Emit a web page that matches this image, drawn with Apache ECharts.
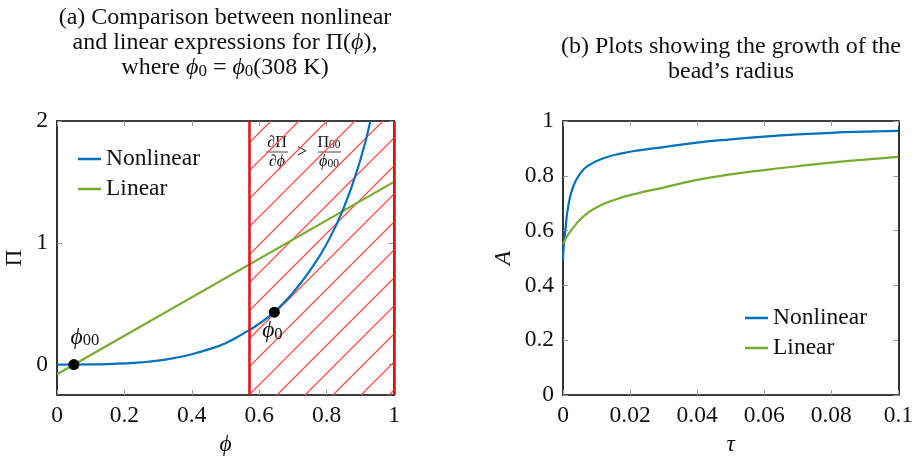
<!DOCTYPE html>
<html>
<head>
<meta charset="utf-8">
<script src="https://cdn.jsdelivr.net/npm/echarts/dist/echarts.min.js"></script>
<style>
  html, body { margin: 0; padding: 0; background: #fff; }
  #main { width: 916px; height: 461px; }
</style>
</head>
<body>
<div id="main"></div>
<script>
// ---- data ----
// (a) Pi(phi)
var phiNl = [0, 0.05, 0.1, 0.15, 0.2, 0.25, 0.3, 0.35, 0.4, 0.45, 0.5, 0.55, 0.6, 0.65, 0.7, 0.75, 0.8, 0.85, 0.9, 0.93];
var piNl  = [0, 0, 0.001, 0.004, 0.009, 0.018, 0.032, 0.055, 0.085, 0.125, 0.175, 0.25, 0.335, 0.445, 0.59, 0.77, 0.99, 1.28, 1.68, 2.0];
var phiLin = [0, 1];
var piLin  = [-0.08, 1.5];
var pointPhi = [0.05, 0.645];
var pointPi  = [0, 0.43];
var pointNames = ['00', '0'];
var regionStart = 0.57;
var ticksA_x = [0, 0.2, 0.4, 0.6, 0.8, 1];
var ticksA_y = [0, 1, 2];

// (b) A(tau)
var tauNl = [0, 0.0002, 0.0007, 0.0015, 0.003, 0.005, 0.0075, 0.0125, 0.0175, 0.0225, 0.03, 0.04, 0.05, 0.06, 0.07, 0.08, 0.09, 0.1];
var aNl   = [0.49, 0.54, 0.6, 0.685, 0.76, 0.806, 0.837, 0.866, 0.882, 0.893, 0.905, 0.921, 0.933, 0.943, 0.951, 0.957, 0.961, 0.964];
var tauLin = [0, 0.0003, 0.001, 0.0025, 0.0055, 0.0095, 0.0155, 0.0225, 0.03, 0.04, 0.05, 0.06, 0.07, 0.08, 0.09, 0.1];
var aLin   = [0.551, 0.558, 0.575, 0.602, 0.645, 0.682, 0.713, 0.737, 0.757, 0.785, 0.805, 0.821, 0.835, 0.848, 0.859, 0.869];

function zip(xs, ys) { return xs.map(function (x, i) { return [x, ys[i]]; }); }

var BLUE = '#0072bd', GREEN = '#77ac30', RED = '#e3141b';
var FONT = '"Liberation Serif", "DejaVu Serif", serif';
var FS = 23.5;

// hatch tile
var tile = document.createElement('canvas');
tile.width = 28; tile.height = 28;
var c = tile.getContext('2d');
c.strokeStyle = '#ff4d4d';
c.lineWidth = 1.3;
c.beginPath();
c.moveTo(-2, 30); c.lineTo(30, -2);
c.moveTo(-2, 2); c.lineTo(2, -2);
c.moveTo(26, 30); c.lineTo(30, 26);
c.stroke();

var rich = {
  i: { fontFamily: FONT, fontStyle: 'italic', fontSize: FS, color: '#111' },
  s: { fontFamily: FONT, fontSize: 16.5, color: '#111', lineHeight: 16, verticalAlign: 'bottom' }
};
var titleRich = {
  i: { fontFamily: FONT, fontStyle: 'italic', fontSize: 24, color: '#111' },
  s: { fontFamily: FONT, fontSize: 17, color: '#111', lineHeight: 16, verticalAlign: 'bottom' }
};

function ticks(vals) {
  return { show: true, inside: true, length: 5, customValues: vals, lineStyle: { color: '#999', width: 1 } };
}
function frameAxis(o) {
  return Object.assign({
    type: 'value',
    axisLine: { show: true, onZero: false, lineStyle: { color: '#000', width: 1.6 } },
    axisTick: { show: true, inside: true, length: 5, lineStyle: { color: '#999', width: 1 } },
    axisLabel: { show: false },
    splitLine: { show: false }
  }, o);
}
var lbl = { show: true, fontFamily: FONT, fontSize: FS, color: '#111' };
var nameStyle = { fontFamily: FONT, fontSize: FS, fontStyle: 'italic', color: '#111' };

var chart = echarts.init(document.getElementById('main'));
chart.setOption({
  animation: false,
  title: [{
    left: 225, top: 5, padding: 0, textAlign: 'center',
    text: '(a) Comparison between nonlinear\nand linear expressions for Π({i|ϕ}),\nwhere {i|ϕ}{s|0} = {i|ϕ}{s|0}(308 K)',
    textStyle: { fontFamily: FONT, fontSize: 24, fontWeight: 'normal', color: '#111', lineHeight: 25, rich: titleRich }
  }, {
    left: 731, top: 34, padding: 0, textAlign: 'center',
    text: '(b) Plots showing the growth of the\nbead’s radius',
    textStyle: { fontFamily: FONT, fontSize: 24, fontWeight: 'normal', color: '#111', lineHeight: 25 }
  }],
  legend: [{
    orient: 'vertical', left: 78, top: 147, padding: 0, itemGap: 6,
    icon: 'rect', itemWidth: 23, itemHeight: 2.5,
    data: ['Nonlinear', 'Linear'],
    textStyle: { fontFamily: FONT, fontSize: FS, color: '#111' }
  }, {
    orient: 'vertical', left: 745, top: 306, padding: 0, itemGap: 6,
    icon: 'rect', itemWidth: 23, itemHeight: 2.5,
    data: ['Nonlinear', 'Linear'],
    textStyle: { fontFamily: FONT, fontSize: FS, color: '#111' }
  }],
  grid: [
    { left: 57, right: 522, top: 121, bottom: 64 },
    { left: 563, right: 17, top: 121, bottom: 64 }
  ],
  xAxis: [
    frameAxis({ gridIndex: 0, min: 0, max: 1, position: 'bottom',
      name: 'ϕ', nameLocation: 'middle', nameGap: 38, nameTextStyle: nameStyle,
      axisTick: ticks(ticksA_x),
      axisLabel: Object.assign({ margin: 9, customValues: ticksA_x }, lbl) }),
    frameAxis({ gridIndex: 0, min: 0, max: 1, position: 'top', axisTick: ticks(ticksA_x) }),
    frameAxis({ gridIndex: 1, min: 0, max: 0.1, interval: 0.02, position: 'bottom',
      name: 'τ', nameLocation: 'middle', nameGap: 30, nameTextStyle: nameStyle,
      axisLabel: Object.assign({ margin: 9, formatter: function (v) { return +v.toFixed(2) + ''; } }, lbl) }),
    frameAxis({ gridIndex: 1, min: 0, max: 0.1, interval: 0.02, position: 'top' })
  ],
  yAxis: [
    frameAxis({ gridIndex: 0, min: -0.25, max: 2, position: 'left',
      name: 'Π', nameLocation: 'middle', nameGap: 30, nameRotate: 90,
      nameTextStyle: { fontFamily: FONT, fontSize: FS, color: '#111' },
      axisTick: ticks(ticksA_y),
      axisLabel: Object.assign({ margin: 9, customValues: ticksA_y }, lbl) }),
    frameAxis({ gridIndex: 0, min: -0.25, max: 2, position: 'right', axisTick: ticks(ticksA_y) }),
    frameAxis({ gridIndex: 1, min: 0, max: 1, interval: 0.2, position: 'left',
      name: 'A', nameLocation: 'middle', nameGap: 48, nameRotate: 90, nameTextStyle: nameStyle,
      axisLabel: Object.assign({ margin: 9, formatter: function (v) { return +v.toFixed(1) + ''; } }, lbl) }),
    frameAxis({ gridIndex: 1, min: 0, max: 1, interval: 0.2, position: 'right' })
  ],
  series: [
    {
      name: 'Linear', type: 'line', xAxisIndex: 0, yAxisIndex: 0,
      data: zip(phiLin, piLin), showSymbol: false, clip: true,
      lineStyle: { color: GREEN, width: 2.2 }, itemStyle: { color: GREEN }, z: 3,
      markArea: {
        silent: true,
        itemStyle: { color: { image: tile, repeat: 'repeat' } },
        data: [[{ xAxis: regionStart }, { xAxis: 1 }]]
      },
      markLine: {
        silent: true, symbol: 'none', label: { show: false },
        lineStyle: { color: RED, width: 2.6, type: 'solid' },
        data: [{ xAxis: regionStart }, { xAxis: 1 }]
      }
    },
    {
      name: 'Nonlinear', type: 'line', xAxisIndex: 0, yAxisIndex: 0,
      data: zip(phiNl, piNl), showSymbol: false, smooth: 0.5, clip: true,
      lineStyle: { color: BLUE, width: 2.2 }, itemStyle: { color: BLUE }, z: 4
    },
    {
      type: 'scatter', xAxisIndex: 0, yAxisIndex: 0, symbolSize: 11, z: 6,
      itemStyle: { color: '#000', opacity: 1 },
      data: zip(pointPhi, pointPi).map(function (p, i) {
        return {
          value: p, name: pointNames[i],
          label: i === 0
            ? { position: 'top', distance: 10, offset: [11, 0] }
            : { position: 'bottom', distance: 2, offset: [-2, 0] }
        };
      }),
      label: {
        show: true,
        formatter: function (p) { return '{i|ϕ}{s|' + p.name + '}'; },
        rich: rich
      }
    },
    {
      name: 'Nonlinear', type: 'line', xAxisIndex: 2, yAxisIndex: 2,
      data: zip(tauNl, aNl), showSymbol: false, smooth: 0.5,
      lineStyle: { color: BLUE, width: 2.2 }, itemStyle: { color: BLUE }
    },
    {
      name: 'Linear', type: 'line', xAxisIndex: 2, yAxisIndex: 2,
      data: zip(tauLin, aLin), showSymbol: false, smooth: 0.5,
      lineStyle: { color: GREEN, width: 2.2 }, itemStyle: { color: GREEN }
    }
  ],
  graphic: [{
    type: 'group', left: 262, top: 133, z: 100,
    children: [
      { type: 'rect', shape: { x: 0, y: 0, width: 83, height: 38 }, style: { fill: '#fff' } },
      { type: 'text', x: 15, y: 10, style: { text: '∂Π', font: '16px ' + FONT, fill: '#111', align: 'center', verticalAlign: 'middle' } },
      { type: 'line', shape: { x1: 4, y1: 19, x2: 26, y2: 19 }, style: { stroke: '#111', lineWidth: 0.8 } },
      { type: 'text', x: 15, y: 29, style: { text: '∂{i|ϕ}', font: '16px ' + FONT, fill: '#111', align: 'center', verticalAlign: 'middle',
        rich: { i: { fontFamily: FONT, fontSize: 16, fontStyle: 'italic', fill: '#111' } } } },
      { type: 'text', x: 40, y: 19, style: { text: '>', font: '18px ' + FONT, fill: '#111', align: 'center', verticalAlign: 'middle' } },
      { type: 'text', x: 67, y: 10, style: { text: 'Π{s|00}', font: '16px ' + FONT, fill: '#111', align: 'center', verticalAlign: 'middle',
        rich: { s: { fontFamily: FONT, fontSize: 11.5, fill: '#111', lineHeight: 11, verticalAlign: 'bottom' } } } },
      { type: 'line', shape: { x1: 56, y1: 19, x2: 79, y2: 19 }, style: { stroke: '#111', lineWidth: 0.8 } },
      { type: 'text', x: 67, y: 29, style: { text: '{i|ϕ}{s|00}', font: '16px ' + FONT, fill: '#111', align: 'center', verticalAlign: 'middle',
        rich: { i: { fontFamily: FONT, fontSize: 16, fontStyle: 'italic', fill: '#111' },
                s: { fontFamily: FONT, fontSize: 11.5, fill: '#111', lineHeight: 11, verticalAlign: 'bottom' } } } }
    ]
  }]
});
</script>
</body>
</html>
